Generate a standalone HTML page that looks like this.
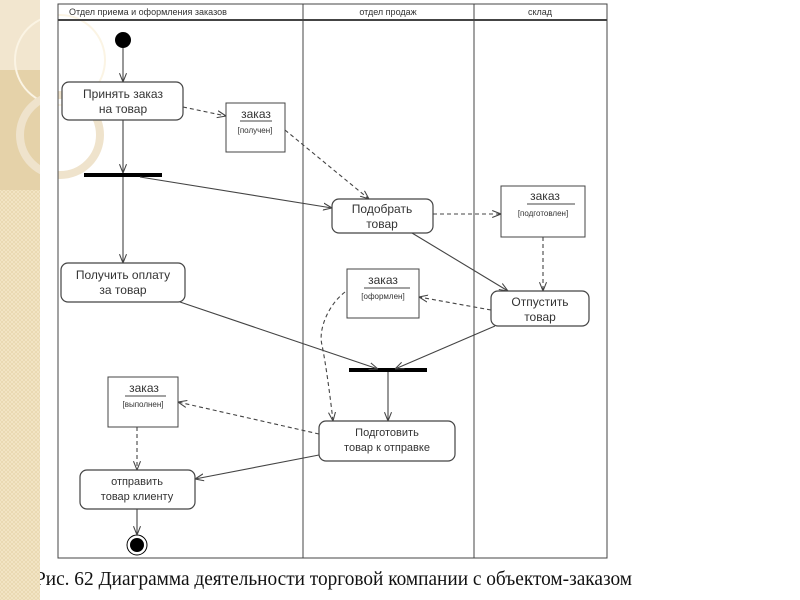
<!DOCTYPE html>
<html><head><meta charset="utf-8"><style>
html,body{margin:0;padding:0;background:#fff;width:800px;height:600px;overflow:hidden}
svg{display:block}
text{font-family:"Liberation Sans","DejaVu Sans",sans-serif;fill:#333}
</style></head><body>
<svg width="800" height="600" viewBox="0 0 800 600" xmlns="http://www.w3.org/2000/svg">
<defs>
<marker id="a" viewBox="0 0 10 10" refX="10" refY="5" markerWidth="8" markerHeight="8" orient="auto"><path d="M0,1 L10,5 L0,9" fill="none" stroke="#444" stroke-width="1.2"/></marker>
<pattern id="hp" width="4" height="4" patternUnits="userSpaceOnUse"><rect width="4" height="4" fill="#f3e6c6"/><path d="M0,0 L4,4 M4,0 L0,4" stroke="#e6d3a8" stroke-width="0.6"/></pattern>
</defs>
<text x="35" y="585" textLength="597" lengthAdjust="spacingAndGlyphs" style="font-family:'Liberation Serif',serif;font-size:19.5px;fill:#111">Рис. 62 Диаграмма деятельности торговой компании с объектом-заказом</text>
<rect x="0" y="0" width="40" height="600" fill="url(#hp)"/>
<rect x="0" y="0" width="40" height="70" fill="#f2e6cf"/>
<rect x="0" y="70" width="40" height="120" fill="#e5d2a9"/>
<circle cx="60" cy="60" r="45" fill="none" stroke="#fbf4e4" stroke-width="2"/>
<circle cx="60" cy="135" r="40" fill="none" stroke="#efe3cc" stroke-width="8"/>
<rect x="40" y="0" width="18" height="560" fill="#fff"/>
<g stroke="#444" fill="none" stroke-width="1">
<rect x="58" y="4" width="549" height="554"/>
<line x1="58" y1="20" x2="607" y2="20" stroke-width="2"/>
<line x1="303" y1="4" x2="303" y2="558"/>
<line x1="474" y1="4" x2="474" y2="558"/>
</g>
<text x="69" y="15" font-size="9">Отдел приема и оформления заказов</text>
<text x="388" y="15" font-size="9" text-anchor="middle">отдел продаж</text>
<text x="540" y="15" font-size="9" text-anchor="middle">склад</text>
<circle cx="123" cy="40" r="8" fill="#000"/>
<circle cx="137" cy="545" r="10" fill="#fff" stroke="#000"/>
<circle cx="137" cy="545" r="7" fill="#000"/>
<rect x="84" y="173" width="78" height="4" fill="#000"/>
<rect x="349" y="368" width="78" height="4" fill="#000"/>
<g stroke="#444" fill="#fff" stroke-width="1.2">
<rect x="62" y="82" width="121" height="38" rx="7"/>
<rect x="332" y="199" width="101" height="34" rx="7"/>
<rect x="61" y="263" width="124" height="39" rx="7"/>
<rect x="491" y="291" width="98" height="35" rx="7"/>
<rect x="319" y="421" width="136" height="40" rx="7"/>
<rect x="80" y="470" width="115" height="39" rx="7"/>
<rect x="226" y="103" width="59" height="49" stroke-width="1"/>
<rect x="501" y="186" width="84" height="51" stroke-width="1"/>
<rect x="347" y="269" width="72" height="49" stroke-width="1"/>
<rect x="108" y="377" width="70" height="50" stroke-width="1"/>
</g>
<g font-size="12" text-anchor="middle">
<text x="123" y="98">Принять заказ</text><text x="123" y="113">на товар</text>
<text x="382" y="213">Подобрать</text><text x="382" y="228">товар</text>
<text x="123" y="279">Получить оплату</text><text x="123" y="294">за товар</text>
<text x="540" y="306">Отпустить</text><text x="540" y="321">товар</text>
<text x="387" y="436" font-size="11">Подготовить</text><text x="387" y="451" font-size="11">товар к отправке</text>
<text x="137" y="485" font-size="11">отправить</text><text x="137" y="500" font-size="11">товар клиенту</text>
</g>
<g text-anchor="middle">
<text x="256" y="118" font-size="12">заказ</text><text x="255" y="133" font-size="8">[получен]</text>
<text x="545" y="200" font-size="12">заказ</text><text x="543" y="216" font-size="8">[подготовлен]</text>
<text x="383" y="284" font-size="12">заказ</text><text x="383" y="299" font-size="8">[оформлен]</text>
<text x="144" y="392" font-size="12">заказ</text><text x="143" y="407" font-size="8">[выполнен]</text>
</g>
<g stroke="#444" stroke-width="1">
<line x1="240" y1="121" x2="272" y2="121"/>
<line x1="527" y1="204" x2="575" y2="204"/>
<line x1="364" y1="288" x2="410" y2="288"/>
<line x1="125" y1="396" x2="166" y2="396"/>
</g>
<g stroke="#444" stroke-width="1.1" fill="none" marker-end="url(#a)">
<line x1="123" y1="48" x2="123" y2="82"/>
<line x1="123" y1="120" x2="123" y2="173"/>
<line x1="140" y1="177" x2="332" y2="208"/>
<line x1="123" y1="177" x2="123" y2="263"/>
<line x1="412" y1="233" x2="508" y2="291"/>
<line x1="180" y1="302" x2="378" y2="369"/>
<line x1="495" y1="326" x2="395" y2="369"/>
<line x1="388" y1="372" x2="388" y2="421"/>
<line x1="319" y1="455" x2="195" y2="479"/>
<line x1="137" y1="509" x2="137" y2="535"/>
</g>
<g stroke="#444" stroke-width="1.1" fill="none" stroke-dasharray="4,3" marker-end="url(#a)">
<line x1="183" y1="107" x2="226" y2="116"/>
<line x1="285" y1="130" x2="369" y2="199"/>
<line x1="433" y1="214" x2="501" y2="214"/>
<line x1="543" y1="237" x2="543" y2="291"/>
<line x1="491" y1="310" x2="419" y2="297"/>
<path d="M345,292 C328,305 318,330 322,345 C326,365 330,395 333,421"/>
<line x1="319" y1="434" x2="178" y2="402"/>
<line x1="137" y1="427" x2="137" y2="470"/>
</g>
</svg>
</body></html>
